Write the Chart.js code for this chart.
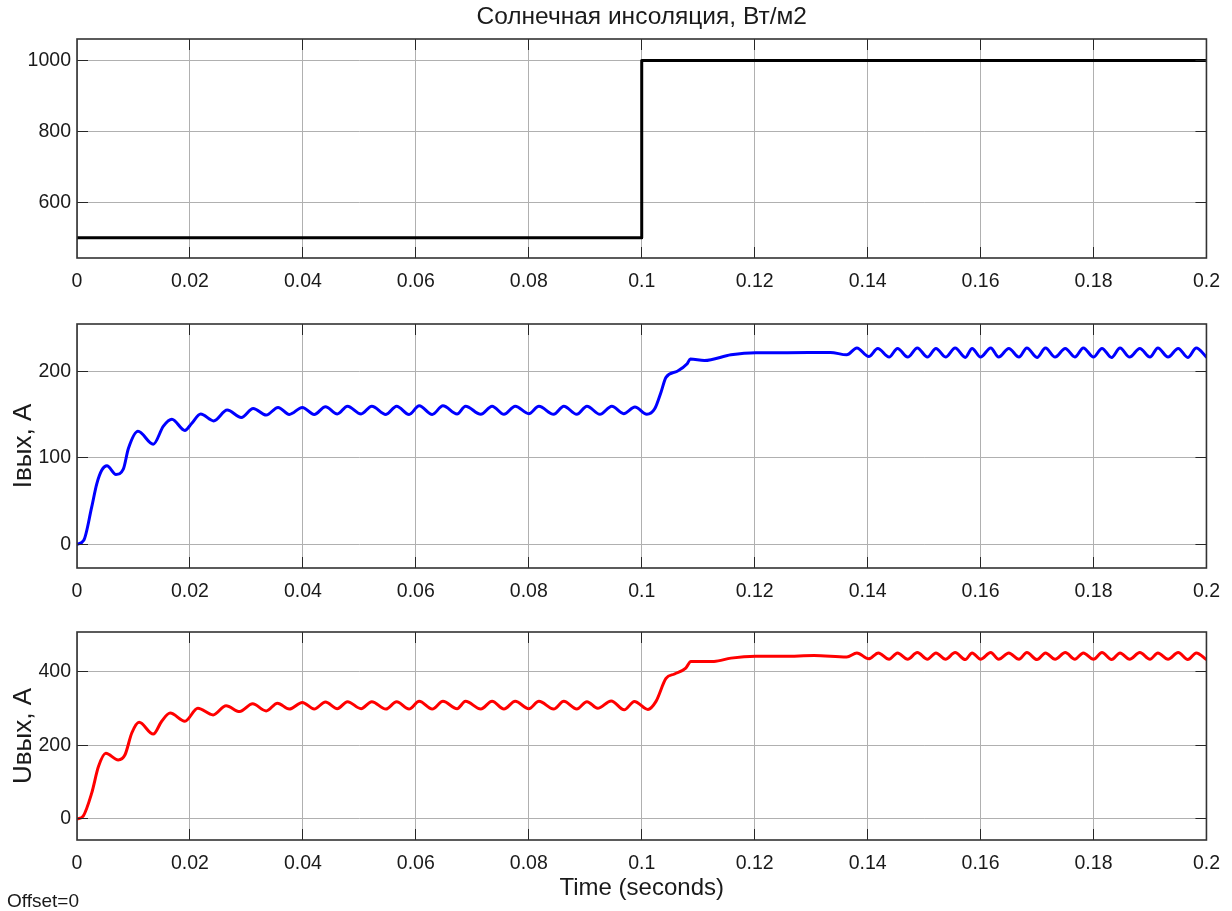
<!DOCTYPE html>
<html><head><meta charset="utf-8">
<script src="https://cdn.jsdelivr.net/npm/chart.js@4.4.1/dist/chart.umd.min.js"></script>
<style>
html,body{margin:0;padding:0;background:#fff;}
#wrap{position:relative;width:1232px;height:911px;overflow:hidden;background:#fff;}
canvas{position:absolute;left:0;}
#offset{position:absolute;left:7px;top:890px;font:19px "Liberation Sans",Arial,sans-serif;color:#1a1a1a;line-height:22px;}
</style></head><body>
<div id="wrap">
<canvas id="c1" width="1232" height="300" style="top:0px"></canvas>
<canvas id="c2" width="1232" height="300" style="top:300px"></canvas>
<canvas id="c3" width="1232" height="311" style="top:600px"></canvas>
<div id="offset">Offset=0</div>
</div>
<script>
// ---- data ----
const xTicks = [0,0.02,0.04,0.06,0.08,0.1,0.12,0.14,0.16,0.18,0.2];
const xTickLabels = ['0','0.02','0.04','0.06','0.08','0.1','0.12','0.14','0.16','0.18','0.2'];

const tSun = [0, 0.1, 0.1, 0.2];
const vSun = [500, 500, 1000, 1000];
const ySunTicks = [600, 800, 1000];
const ySunLabels = ['600', '800', '1000'];

const tI = [0, 0.0012, 0.0026, 0.0035, 0.0044, 0.0053, 0.0069, 0.0082, 0.0091, 0.0108,
0.0135, 0.0153, 0.0168, 0.0191, 0.0203, 0.0219, 0.0242, 0.0266, 0.0291, 0.0312,
0.0335, 0.0356, 0.0376, 0.0399, 0.0420, 0.0440, 0.0461, 0.0479, 0.0503, 0.0522,
0.0547, 0.0566, 0.0588, 0.0606, 0.0629, 0.0648, 0.0673, 0.0688, 0.0715, 0.0735,
0.0756, 0.0776, 0.0800, 0.0818, 0.0844, 0.0862, 0.0885, 0.0903, 0.0926, 0.0947,
0.0968, 0.0988, 0.1009, 0.1023, 0.1034, 0.1043, 0.1063, 0.1080, 0.1086, 0.1111,
0.1158, 0.1202, 0.1258, 0.1334, 0.1363, 0.1381, 0.1402, 0.1418, 0.1438, 0.1453,
0.1471, 0.1488, 0.1506, 0.1521, 0.1538, 0.1555, 0.1573, 0.1585, 0.1600, 0.1618,
0.1632, 0.1650, 0.1668, 0.1682, 0.1700, 0.1715, 0.1732, 0.1750, 0.1767, 0.1782,
0.1800, 0.1815, 0.1832, 0.1847, 0.1864, 0.1882, 0.1900, 0.1914, 0.1932, 0.1950,
0.1967, 0.1982, 0.2000];
const vI = [0, 4.6, 43, 70, 86, 91, 81, 87, 111, 131,
116, 137, 145, 132, 140, 151, 143, 155.5, 147, 157.4,
149.7, 158.6, 150.5, 158.6, 150.5, 159.4, 151, 160, 151, 160,
150.5, 160, 150.5, 160.5, 150.5, 160.5, 151, 160, 150.6, 160,
150.6, 160, 151.4, 160, 150.6, 160, 150.6, 160, 150.6, 160,
151.4, 159, 150.6, 157, 176, 193.5, 200.5, 208.8, 214.6, 213,
219.6, 222, 222, 222.4, 219.6, 227.5, 217.5, 226.8, 217, 227,
217, 227.5, 217, 227, 217, 227.5, 216.5, 227, 217, 227.5,
217, 227, 217, 227.5, 216.5, 227.5, 217, 227, 217, 227.5,
217, 227, 216.5, 227.5, 217, 227, 217, 227.5, 217, 227,
216.5, 227.5, 217];
const yITicks = [0, 100, 200];
const yILabels = ['0', '100', '200'];

const tU = [0, 0.0011, 0.0026, 0.0038, 0.0051, 0.0073, 0.0085, 0.0097, 0.0110, 0.0135,
0.0150, 0.0165, 0.0191, 0.0214, 0.0241, 0.0264, 0.0288, 0.0311, 0.0335, 0.0355,
0.0376, 0.0399, 0.0420, 0.0440, 0.0461, 0.0479, 0.0503, 0.0522, 0.0547, 0.0566,
0.0588, 0.0606, 0.0629, 0.0648, 0.0673, 0.0688, 0.0715, 0.0735, 0.0756, 0.0776,
0.0800, 0.0818, 0.0844, 0.0862, 0.0885, 0.0903, 0.0922, 0.0946, 0.0969, 0.0987,
0.1011, 0.1025, 0.1043, 0.1058, 0.1078, 0.1087, 0.1128, 0.1158, 0.1202, 0.1252,
0.1305, 0.1363, 0.1381, 0.1402, 0.1419, 0.1438, 0.1453, 0.1471, 0.1488, 0.1506,
0.1521, 0.1538, 0.1555, 0.1573, 0.1585, 0.1600, 0.1618, 0.1632, 0.1650, 0.1668,
0.1682, 0.1700, 0.1715, 0.1732, 0.1750, 0.1767, 0.1782, 0.1800, 0.1815, 0.1832,
0.1847, 0.1864, 0.1882, 0.1900, 0.1914, 0.1932, 0.1950, 0.1967, 0.1982, 0.2000];
const vU = [0, 8, 70, 142, 178, 160, 174, 233, 262, 230,
265, 287, 265, 300, 282, 307, 291, 312, 293, 314,
298, 316, 298, 317, 299, 318, 299, 318, 298, 318,
298, 319, 298, 319, 299, 319, 298, 319, 298, 319,
299, 319, 298, 319, 298, 318, 300, 320, 296, 318.6,
297, 318, 381, 393, 409, 427, 427, 436, 441, 441,
443, 439, 450, 434, 450, 433, 450, 433, 451, 433,
450, 433, 451, 432, 450, 433, 451, 433, 450, 433,
451, 432, 450, 433, 451, 433, 450, 433, 451, 432,
450, 433, 451, 433, 450, 433, 451, 432, 450, 432];
const yUTicks = [0, 200, 400];
const yULabels = ['0', '200', '400'];

// ---- drawing ----
const FONT = '"Liberation Sans", Arial, Helvetica, sans-serif';
const TXT = '#1a1a1a';

function alignPx(p){ return Math.round(p - 0.5) + 0.5; }

const boxPlugin = {
  id: 'scopeBox',
  afterDraw(chart){
    const {ctx, chartArea: a, scales} = chart;
    const L = 11;
    ctx.save();
    ctx.strokeStyle = '#262626';
    ctx.lineWidth = 1;
    ctx.beginPath();
    scales.x.ticks.forEach(t => {
      if (t.value <= scales.x.min || t.value >= scales.x.max) return;
      const p = alignPx(scales.x.getPixelForValue(t.value));
      ctx.moveTo(p, a.top); ctx.lineTo(p, a.top + L);
      ctx.moveTo(p, a.bottom); ctx.lineTo(p, a.bottom - L);
    });
    scales.y.ticks.forEach(t => {
      const p = alignPx(scales.y.getPixelForValue(t.value));
      ctx.moveTo(a.left, p); ctx.lineTo(a.left + L, p);
      ctx.moveTo(a.right, p); ctx.lineTo(a.right - L, p);
    });
    ctx.stroke();
    ctx.lineWidth = 1.6;
    ctx.strokeStyle = '#333333';
    ctx.strokeRect(a.left, a.top, a.right - a.left, a.bottom - a.top);
    ctx.restore();
  }
};

function makeChart(id, t, v, color, lw, yMin, yMax, yTicks, yLabels, cfg){
  const pts = t.map((x, i) => ({x: x, y: v[i]}));
  return new Chart(document.getElementById(id), {
    type: 'line',
    data: { datasets: [{
      data: pts, borderColor: color, borderWidth: lw, pointRadius: 0,
      fill: false, tension: cfg.smooth ? 0.4 : 0,
      cubicInterpolationMode: cfg.smooth ? 'monotone' : 'default',
      borderJoinStyle: 'round', borderCapStyle: 'round'
    }]},
    options: {
      responsive: false, animation: false, devicePixelRatio: 1,
      layout: { padding: { top: cfg.padTop, right: 21, left: 0, bottom: 0 } },
      plugins: {
        legend: { display: false }, tooltip: { enabled: false },
        title: cfg.title ? { display: true, text: cfg.title, color: TXT, fullSize: false,
          font: { family: FONT, size: 24.5, weight: 'normal', lineHeight: 1.2 },
          padding: { top: 3, bottom: 6.6 } } : { display: false }
      },
      scales: {
        x: {
          type: 'linear', min: 0, max: 0.2,
          afterBuildTicks: s => { s.ticks = xTicks.map(x => ({value: x})); },
          afterFit: s => { s.height = cfg.xHeight; },
          ticks: { autoSkip: false, maxRotation: 0, minRotation: 0, padding: 12, color: TXT,
            font: { family: FONT, size: 19.5 },
            callback: (val, i) => xTickLabels[i] },
          grid: { color: '#b0b0b0', lineWidth: 1, drawTicks: false },
          border: { display: false },
          title: cfg.xTitle ? { display: true, text: cfg.xTitle, color: TXT,
            font: { family: FONT, size: 24, lineHeight: 1.2 }, padding: { top: 0, bottom: 8.5 } } : { display: false }
        },
        y: {
          type: 'linear', min: yMin, max: yMax,
          afterBuildTicks: s => { s.ticks = yTicks.map(y => ({value: y})); },
          afterFit: s => { s.width = 77; },
          ticks: { padding: 6, color: TXT, font: { family: FONT, size: 19.5 },
            callback: (val, i) => yLabels[i] },
          grid: { color: '#b0b0b0', lineWidth: 1, drawTicks: false },
          border: { display: false },
          title: cfg.yTitle ? { display: true, text: cfg.yTitle, color: TXT,
            font: { family: FONT, size: 26, lineHeight: 1.2 }, padding: { top: 8, bottom: 0 } } : { display: false }
        }
      }
    },
    plugins: [boxPlugin]
  });
}

makeChart('c1', tSun, vSun, '#000000', 3, 443, 1061, ySunTicks, ySunLabels,
  { padTop: 0, xHeight: 42, title: 'Солнечная инсоляция, Вт/м2', smooth: false });
makeChart('c2', tI, vI, '#0000ff', 3, -27.5, 255.3, yITicks, yILabels,
  { padTop: 24, xHeight: 32, yTitle: 'Iвых, A', smooth: true });
makeChart('c3', tU, vU, '#ff0000', 3, -57, 506.8, yUTicks, yULabels,
  { padTop: 32, xHeight: 71, yTitle: 'Uвых, A', xTitle: 'Time (seconds)', smooth: true });
</script>
</body></html>
